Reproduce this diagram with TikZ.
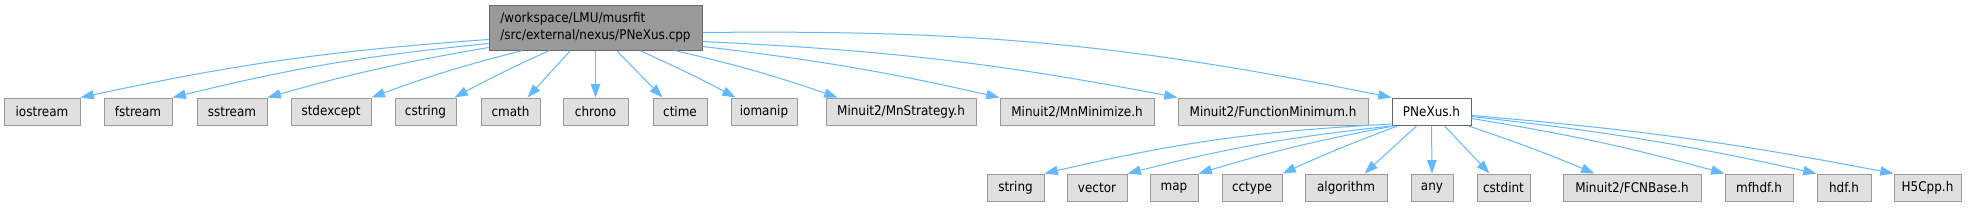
\documentclass[tikz,border=0pt]{standalone}
\usepackage{fontspec}
\setmainfont{DejaVu Sans}[FakeStretch=0.9]
\usetikzlibrary{arrows.meta,calc}
\definecolor{edgec}{HTML}{63B8FF}
\definecolor{nodef}{HTML}{E0E0E0}
\definecolor{noded}{HTML}{999999}
\definecolor{rootd}{HTML}{666666}
\newcommand\bx[6]{\node[#1, minimum width={(#4-#3)*0.75pt}, minimum height={(#6-#5)*0.75pt}] (#2) at ({(#3+#4)/2},{(#5+#6)/2})}
\begin{document}
\begin{tikzpicture}[x=0.75pt,y=-0.75pt,
  hdr/.style={draw=noded, fill=nodef, line width=0.75pt, inner sep=0pt, font=\fontsize{10pt}{12.5pt}\selectfont},
  rootbox/.style={hdr, fill=noded, draw=rootd, align=left},
  curbox/.style={hdr, fill=white, draw=rootd},
  dep/.style={draw=edgec, line width=0.75pt, -{Triangle[length=10pt,width=7pt]}}]
\fill[white] (0,0) rectangle (1976,207);
\useasboundingbox (0,0) rectangle (1976,207);

\bx{rootbox}{root}{489}{702}{5}{50} {/workspace/LMU/musrfit\\/src/external/nexus/PNeXus.cpp};

% row 1
\bx{hdr}{ios}{4}{80}{98}{125.5} {iostream};
\bx{hdr}{fst}{104}{172}{98}{125.5} {fstream};
\bx{hdr}{sst}{197}{267}{98}{125.5} {sstream};
\bx{hdr}{stdx}{291}{371}{98}{125.5} {stdexcept};
\bx{hdr}{cstr}{395}{456}{98}{125.5} {cstring};
\bx{hdr}{cmath}{481}{540}{98}{125.5} {cmath};
\bx{hdr}{chrono}{563}{628}{98}{125.5} {chrono};
\bx{hdr}{ctime}{653}{707}{98}{125.5} {ctime};
\bx{hdr}{ioman}{731}{797}{98}{125.5} {iomanip};
\bx{hdr}{mnstr}{826}{976}{98}{125.5} {Minuit2/MnStrategy.h};
\bx{hdr}{mnmin}{1000}{1154}{98}{125.5} {Minuit2/MnMinimize.h};
\bx{hdr}{fmin}{1178}{1368}{98}{125.5} {Minuit2/FunctionMinimum.h};
\bx{curbox}{pnx}{1392}{1471}{98}{125.5} {PNeXus.h};

% row 2
\bx{hdr}{str}{987}{1044}{174}{201.5} {string};
\bx{hdr}{vec}{1067}{1127}{174}{201.5} {vector};
\bx{hdr}{map}{1150}{1198}{174}{201.5} {map};
\bx{hdr}{cct}{1222}{1282}{174}{201.5} {cctype};
\bx{hdr}{alg}{1305}{1387}{174}{201.5} {algorithm};
\bx{hdr}{any}{1411}{1453}{174}{201.5} {any};
\bx{hdr}{cstd}{1477}{1530}{174}{201.5} {cstdint};
\bx{hdr}{fcn}{1563}{1701}{174}{201.5} {Minuit2/FCNBase.h};
\bx{hdr}{mfh}{1725}{1793}{174}{201.5} {mfhdf.h};
\bx{hdr}{hdf}{1817}{1871}{174}{201.5} {hdf.h};
\bx{hdr}{h5}{1894}{1961}{174}{201.5} {H5Cpp.h};

% edges from root
\draw[dep] ($(root.north west)+(0,35)$) to[bend right=4] (ios.north east);
\draw[dep] ($(root.north west)+(0,39)$) to[bend right=4] (fst.north east);
\draw[dep] ($(root.north west)+(0,43)$) to[bend right=3] (sst.north east);
\draw[dep] ($(root.south west)+(34,0)$) to[bend right=3] (stdx.north east);
\draw[dep] ($(root.south west)+(61,0)$) to[bend right=2] ($(cstr.north east)+(-2,0)$);
\draw[dep] ($(root.south west)+(82,0)$) -- ($(cmath.north)+(17,0)$);
\draw[dep] (root.south) -- (chrono.north);
\draw[dep] ($(root.south west)+(128,0)$) -- ($(ctime.north west)+(10,0)$);
\draw[dep] ($(root.south west)+(151,0)$) to[bend left=2] ($(ioman.north west)+(5,0)$);
\draw[dep] ($(root.south west)+(186,0)$) to[bend left=3] ($(mnstr.north west)+(12,0)$);
\draw[dep] ($(root.north east)+(0,42)$) to[bend left=3] (mnmin.north west);
\draw[dep] ($(root.north east)+(0,37)$) to[bend left=4] (fmin.north west);
\draw[dep] ($(root.north east)+(0,28)$) to[bend left=6] (pnx.north west);

% edges from PNeXus.h
\draw[dep] ($(pnx.south west)+(0,-2)$) to[bend right=5] (str.north east);
\draw[dep] (pnx.south west) to[bend right=4] (vec.north east);
\draw[dep] ($(pnx.south west)+(2,0)$) to[bend right=3] (map.north east);
\draw[dep] ($(pnx.south west)+(6,0)$) to[bend right=2] (cct.north east);
\draw[dep] ($(pnx.south west)+(25,0)$) -- ($(alg.north east)+(-23,0)$);
\draw[dep] (pnx.south) -- (any.north);
\draw[dep] ($(pnx.south west)+(53,0)$) -- ($(cstd.north west)+(13,0)$);
\draw[dep] ($(pnx.south east)+(-3,0)$) to[bend left=2] ($(fcn.north west)+(32,0)$);
\draw[dep] ($(pnx.north east)+(0,21)$) to[bend left=3] (mfh.north west);
\draw[dep] ($(pnx.north east)+(0,19)$) to[bend left=3] (hdf.north west);
\draw[dep] ($(pnx.north east)+(0,18)$) to[bend left=3] (h5.north west);
\end{tikzpicture}
\end{document}
